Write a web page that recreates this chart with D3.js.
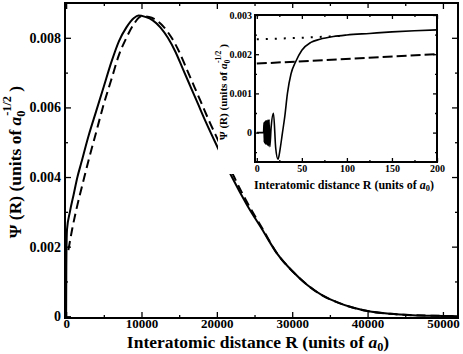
<!DOCTYPE html>
<html>
<head>
<meta charset="utf-8">
<script src="https://cdn.jsdelivr.net/npm/d3@7"></script>
<style>
  body { margin: 0; background: #fff; }
  text { font-family: "Liberation Serif", "Times New Roman", serif; font-weight: bold; }
</style>
</head>
<body>
<div id="chart"></div>
<script>
// main plot data (R in a0, Psi in a0^-1/2)
let solidR   = [0, 20, 60, 120, 500, 1000, 1500, 2000, 3000, 4000, 5000, 6000, 7000, 8000, 9000, 9600, 10500, 11500, 12500, 13500, 14500, 15500, 16500, 17500, 18500, 20000, 22000, 24000, 26000, 28000, 30000, 32000, 34000, 36000, 38000, 40000, 43000, 46000, 50000, 52000];
let solidPsi = [0, 0.0012, 0.0021, 0.0025, 0.0030, 0.0035, 0.0040, 0.0044, 0.0052, 0.0059, 0.0066, 0.0073, 0.0079, 0.0083, 0.00857, 0.00864, 0.0086, 0.0085, 0.0083, 0.0080, 0.0076, 0.0071, 0.0066, 0.0061, 0.0056, 0.0049, 0.0040, 0.0032, 0.0025, 0.0018, 0.0013, 0.0009, 0.0006, 0.0004, 0.00025, 0.00015, 0.00007, 0.00003, 0.00001, 0];
let dashedR   = [300, 800, 1500, 2300, 3000, 4000, 5000, 6000, 7000, 8000, 9000, 10000, 11000, 12000, 13000, 14000, 15000, 16000, 17000, 18000, 19000, 20500, 22300, 24200, 26100, 28000, 30000, 32000, 34000, 36000, 38000, 40000, 43000, 46000, 50000, 52000];
let dashedPsi = [0.0019, 0.0025, 0.0032, 0.0039, 0.0045, 0.0053, 0.0061, 0.0068, 0.0075, 0.0080, 0.0084, 0.00862, 0.0086, 0.0085, 0.0083, 0.0080, 0.0076, 0.0071, 0.0066, 0.0061, 0.0056, 0.0049, 0.0040, 0.0032, 0.0025, 0.0018, 0.0013, 0.0009, 0.0006, 0.0004, 0.00025, 0.00015, 0.00007, 0.00003, 0.00001, 0];

// inset data
let insetSolidR   = [0, 7.5, 8, 8.3, 8.6, 8.9, 9.2, 9.5, 9.8, 10.1, 10.5, 10.9, 11.3, 11.8, 12.3, 12.9, 13.6, 14.5, 15.8, 18.5, 21, 23.5, 26, 28.5, 31, 34, 38, 43, 50, 60, 70, 85, 100, 125, 150, 175, 200];
let insetSolidPsi = [0, 0, 0.00025, -0.00025, 0.00027, -0.00027, 0.00028, -0.00028, 0.0003, -0.0003, 0.0003, -0.0003, 0.00031, -0.00032, 0.00032, -0.00034, 0.00033, -0.00036, 0.0001, 0.00049, -0.0004, -0.00068, -0.0004, 0, 0.0004, 0.001, 0.0015, 0.0018, 0.0021, 0.0023, 0.00238, 0.00245, 0.00249, 0.00253, 0.00257, 0.0026, 0.00262];
let insetDottedR   = [0, 50, 95];
let insetDottedPsi = [0.00238, 0.00242, 0.00247];
let insetDashedR   = [0, 200];
let insetDashedPsi = [0.00176, 0.002];

let xTicks = [0, 10000, 20000, 30000, 40000, 50000];
let xMinor = [5000, 15000, 25000, 35000, 45000];
let yTicks = [0, 0.002, 0.004, 0.006, 0.008];
let yLabels = ["0", "0.002", "0.004", "0.006", "0.008"];
let yMinor = [0.001, 0.003, 0.005, 0.007];
let ixTicks = [0, 50, 100, 150, 200];
let ixMinor = [25, 75, 125, 175];
let iyTicks = [0, 0.001, 0.002, 0.003];
let iyLabels = ["0", "0.001", "0.002", "0.003"];
let iyMinor = [-0.0005, 0.0005, 0.0015, 0.0025];

let W = 463, H = 354;
let FONT = '"Liberation Serif", "Times New Roman", serif';
let svg = d3.select("#chart").append("svg")
    .attr("width", W).attr("height", H);

// ticks helper, inward ticks, no domain line
function ticks(g, axis, vals, size, fmt) {
  g.call(axis.tickValues(vals).tickSize(size).tickFormat(fmt || ""))
  g.attr("font-family", FONT);
  g.select(".domain").remove();
  g.selectAll(".tick line").attr("stroke", "#000").attr("stroke-width", 1.3);
}

function drawPanel(box, xs, ys, o) {
  let g = svg.append("g");
  if (o.bg) {
    g.append("rect").attr("x", o.bg[0]).attr("y", o.bg[1]).attr("width", o.bg[2]).attr("height", o.bg[3]).attr("fill", "#fff");
  }
  // bottom
  let gb = g.append("g").attr("transform", "translate(0," + box.b + ")");
  ticks(gb, d3.axisBottom(xs), o.xMinor, -o.minor);
  let gb2 = g.append("g").attr("transform", "translate(0," + box.b + ")");
  ticks(gb2, d3.axisBottom(xs), o.xTicks, -o.major, d => d);
  gb2.selectAll(".tick text").attr("y", o.xLabOff).attr("font-size", o.tickFont).attr("font-family", FONT).attr("font-weight", "bold");
  // top
  let gt = g.append("g").attr("transform", "translate(0," + box.t + ")");
  ticks(gt, d3.axisTop(xs), o.xMinor, -o.minor);
  let gt2 = g.append("g").attr("transform", "translate(0," + box.t + ")");
  ticks(gt2, d3.axisTop(xs), o.xTicks, -o.major);
  // left
  let gl = g.append("g").attr("transform", "translate(" + box.l + ",0)");
  ticks(gl, d3.axisLeft(ys), o.yMinor, -o.minor);
  let gl2 = g.append("g").attr("transform", "translate(" + box.l + ",0)");
  ticks(gl2, d3.axisLeft(ys), o.yTicks, -o.major, (d, i) => o.yLabels[i]);
  gl2.selectAll(".tick text").attr("x", -o.yLabOff).attr("font-size", o.yTickFont || o.tickFont).attr("font-family", FONT).attr("font-weight", "bold");
  // right
  let gr = g.append("g").attr("transform", "translate(" + box.r + ",0)");
  ticks(gr, d3.axisRight(ys), o.yMinor, -o.minor);
  let gr2 = g.append("g").attr("transform", "translate(" + box.r + ",0)");
  ticks(gr2, d3.axisRight(ys), o.yTicks, -o.major);

  let line = d3.line().x(d => xs(d[0])).y(d => ys(d[1])).curve(d3.curveMonotoneX);
  o.series.forEach(function(s) {
    g.append("path")
      .datum(d3.zip(s.x, s.y))
      .attr("d", line)
      .attr("fill", "none")
      .attr("stroke", "#000")
      .attr("stroke-width", s.w)
      .attr("stroke-dasharray", s.dash);
  });

  g.append("rect")
    .attr("x", box.l).attr("y", box.t)
    .attr("width", box.r - box.l).attr("height", box.b - box.t)
    .attr("fill", "none").attr("stroke", "#000").attr("stroke-width", o.frame);
  return g;
}

// axis title with a0 and superscript
function yTitle(x, y, size) {
  let t = svg.append("text")
    .attr("transform", "translate(" + x + "," + y + ") rotate(-90)")
    .attr("text-anchor", "middle")
    .attr("font-family", FONT).attr("font-weight", "bold")
    .attr("font-size", size);
  t.append("tspan").text("\u03A8 (R)  (units of ");
  t.append("tspan").attr("font-style", "italic").text("a");
  t.append("tspan").attr("font-size", size * 0.7).attr("dy", size * 0.25).text("0");
  t.append("tspan").attr("font-size", size * 0.7).attr("dx", -size * 0.3).attr("dy", -size * 0.8).text("-1/2");
  t.append("tspan").attr("dy", size * 0.55).text(" )");
}
function xTitle(x, y, size) {
  let t = svg.append("text")
    .attr("x", x).attr("y", y)
    .attr("text-anchor", "middle")
    .attr("font-family", FONT).attr("font-weight", "bold")
    .attr("font-size", size);
  t.append("tspan").text("Interatomic distance R (units of  ");
  t.append("tspan").attr("font-style", "italic").text("a");
  t.append("tspan").attr("font-size", size * 0.7).attr("dy", size * 0.15).text("0");
  t.append("tspan").attr("dy", -size * 0.15).text(")");
}

// main panel
let mainBox = {l: 65, r: 458, t: 3, b: 318};
let x = d3.scaleLinear().domain([-150, 52000]).range([mainBox.l, mainBox.r]);
let y = d3.scaleLinear().domain([-0.00005, 0.009]).range([mainBox.b, mainBox.t]);
drawPanel(mainBox, x, y, {
  xTicks: xTicks, xMinor: xMinor, yTicks: yTicks, yMinor: yMinor, yLabels: yLabels,
  major: 6, minor: 3, tickFont: 13, yTickFont: 14, xLabOff: 1, yLabOff: 4, frame: 2,
  series: [
    {x: solidR, y: solidPsi, w: 2, dash: null},
    {x: dashedR, y: dashedPsi, w: 2, dash: "9,5"}
  ]
});
xTitle(258, 348, 17.5);
yTitle(21, 162, 17.5);

// inset panel
let inBox = {l: 255, r: 437, t: 15, b: 162};
let xi = d3.scaleLinear().domain([-2, 200]).range([inBox.l, inBox.r]);
let yi = d3.scaleLinear().domain([-0.00075, 0.003]).range([inBox.b, inBox.t]);
drawPanel(inBox, xi, yi, {
  xTicks: ixTicks, xMinor: ixMinor, yTicks: iyTicks, yMinor: iyMinor, yLabels: iyLabels,
  major: 4, minor: 2, tickFont: 10, xLabOff: 3, yLabOff: 3, frame: 2,
  bg: [218, 8, 222, 166],
  series: [
    {x: insetSolidR, y: insetSolidPsi, w: 1.6, dash: null},
    {x: insetDottedR, y: insetDottedPsi, w: 2, dash: "2,7"},
    {x: insetDashedR, y: insetDashedPsi, w: 2, dash: "10,4"}
  ]
});
xTitle(344, 189, 12);
yTitle(227, 92, 11);
</script>
</body>
</html>
